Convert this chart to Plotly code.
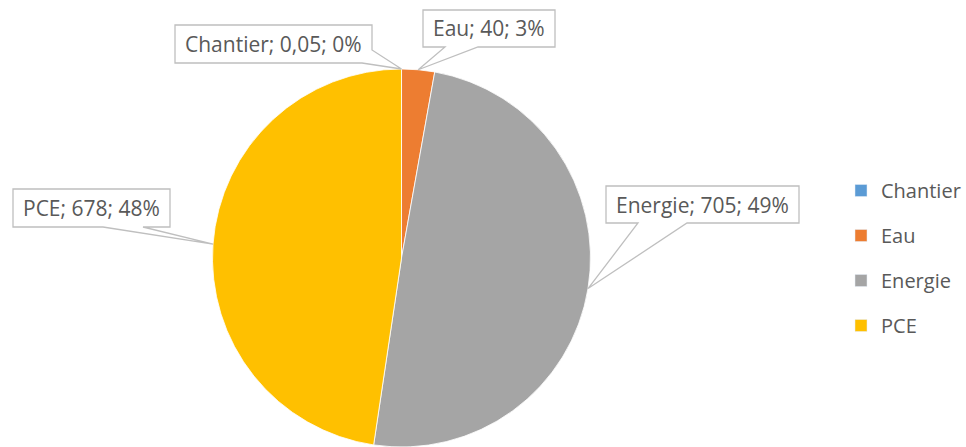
import math
import plotly.graph_objects as go

# ---- data ----
categories = ["Chantier", "Eau", "Energie", "PCE"]
values = [0.05, 40, 705, 678]
value_labels = ["0,05", "40", "705", "678"]
pct_labels = ["0%", "3%", "49%", "48%"]
colors = ["#5B9BD5", "#ED7D31", "#A5A5A5", "#FFC000"]

W, H = 966, 447
CX, CY, R = 401.5, 258.0, 189.0  # pie centre / radius in px

# callout boxes (left, top, right, bottom) in px
boxes = {
    "Chantier": (175, 25, 372, 63),
    "Eau": (423, 10, 555, 47),
    "Energie": (606, 186, 799, 223),
    "PCE": (13, 189, 170, 227),
}

def px(x):
    return x / W

def py(y):
    return 1 - y / H

fig = go.Figure()
fig.add_trace(go.Pie(
    labels=categories, values=values, sort=False, direction="clockwise",
    rotation=0, marker=dict(colors=colors, line=dict(color="white", width=0.8)),
    textinfo="none", hoverinfo="label+value+percent", showlegend=False,
    domain=dict(x=[px(CX - R), px(CX + R)], y=[0, 2 * R / H]),
))

# legend via dummy bar traces
for c, col in zip(categories, colors):
    fig.add_trace(go.Bar(x=[None], y=[None], name=c, marker_color=col,
                         legendgroup=c, showlegend=True))

# callouts with tips computed from slice mid-angles
total = sum(values)
cum = 0
shapes = []
annotations = []
for c, v, vl, pl in zip(categories, values, value_labels, pct_labels):
    mid = (cum + v / 2) / total * 2 * math.pi
    cum += v
    tx = CX + R * math.sin(mid)
    ty = CY - R * math.cos(mid)
    L, T, Rr, B = boxes[c]
    if c == "Chantier":
        pts = [(L, T), (Rr, T), (Rr, 50), (tx, ty), (362, B), (L, B)]
    elif c == "Eau":
        pts = [(L, T), (Rr, T), (Rr, B), (478, B), (tx, ty), (445, B), (L, B)]
    elif c == "Energie":
        pts = [(L, T), (Rr, T), (Rr, B), (687, B), (tx, ty), (638, B), (L, B)]
    else:
        pts = [(L, T), (Rr, T), (Rr, B), (143, B), (tx, ty), (103, B), (L, B)]
    path = "M " + " L ".join(f"{px(x):.5f},{py(y):.5f}" for x, y in pts) + " Z"
    shapes.append(dict(type="path", xref="paper", yref="paper", path=path,
                       fillcolor="white", line=dict(color="#BFBFBF", width=1.3),
                       layer="above"))
    annotations.append(dict(
        x=px((L + Rr) / 2), y=py((T + B) / 2), xref="paper", yref="paper",
        text=f"{c}; {vl}; {pl}", showarrow=False, xanchor="center", yanchor="middle",
        font=dict(family="Open Sans", size=21, color="#595959"),
    ))

fig.update_layout(
    width=W, height=H,
    margin=dict(l=0, r=0, t=0, b=0),
    paper_bgcolor="white", plot_bgcolor="white",
    xaxis=dict(visible=False), yaxis=dict(visible=False),
    shapes=shapes, annotations=annotations,
    showlegend=True,
    legend=dict(x=px(841), y=py(171), xanchor="left", yanchor="top",
                font=dict(family="Open Sans", size=20, color="#595959"),
                tracegroupgap=16, bgcolor="rgba(0,0,0,0)"),
)

fig.write_html("out.html", config={"displayModeBar": False},
               post_script="document.body.style.margin='0';document.body.style.overflow='hidden';")
